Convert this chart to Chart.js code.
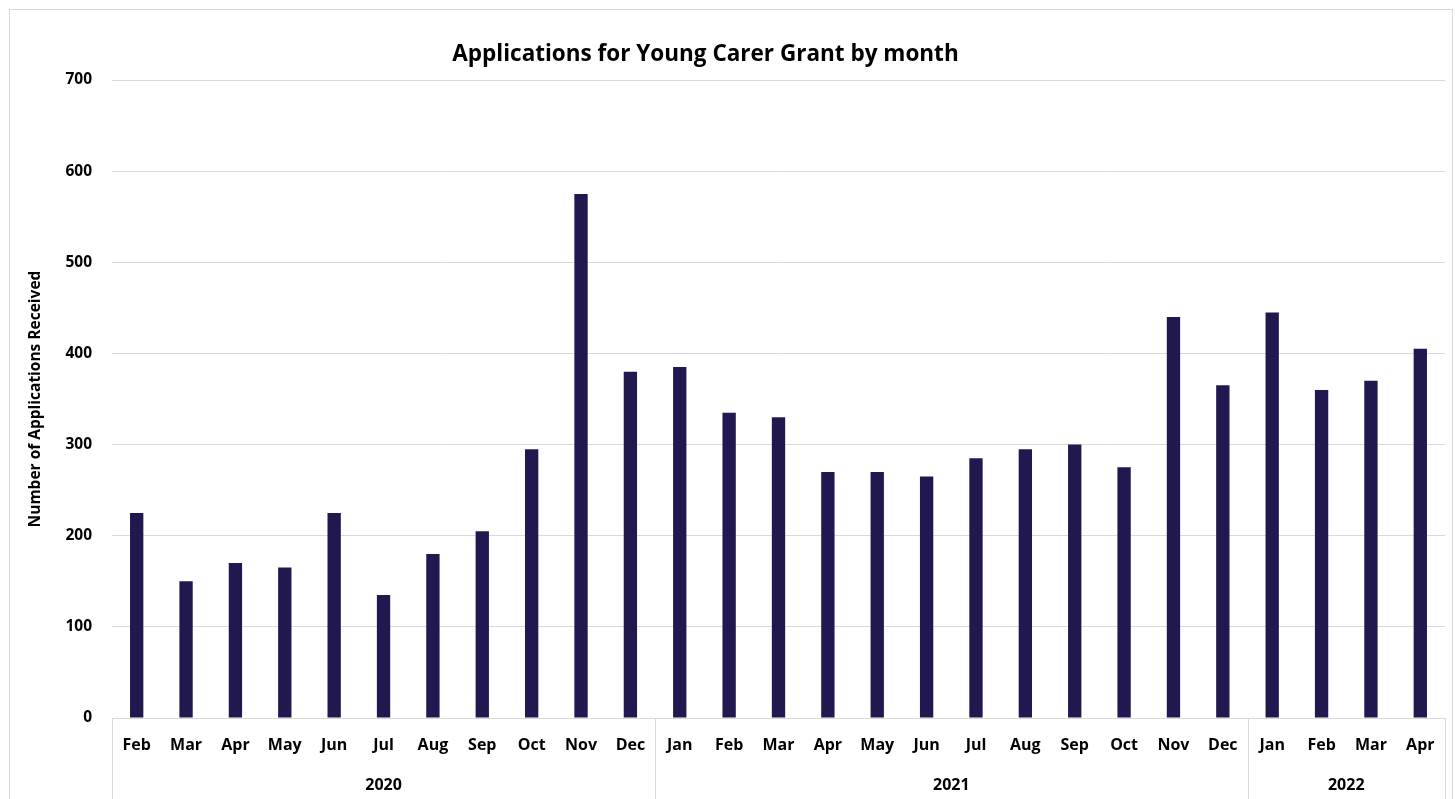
<!DOCTYPE html>
<html>
<head>
<meta charset="utf-8">
<title>Applications for Young Carer Grant by month</title>
<script src="https://cdn.jsdelivr.net/npm/chart.js@4.4.1/dist/chart.umd.min.js"></script>
<style>
  html, body { margin: 0; padding: 0; background: #fff; }
  #wrap { position: absolute; left: 0; top: 0; width: 1455px; height: 799px; }
</style>
</head>
<body>
<div id="wrap"><canvas id="grantChart" width="1455" height="799"></canvas></div>
<script>
// Data
const months = ['Feb', 'Mar', 'Apr', 'May', 'Jun', 'Jul', 'Aug', 'Sep', 'Oct', 'Nov', 'Dec',
                'Jan', 'Feb', 'Mar', 'Apr', 'May', 'Jun', 'Jul', 'Aug', 'Sep', 'Oct', 'Nov', 'Dec',
                'Jan', 'Feb', 'Mar', 'Apr'];
const applications = [225, 150, 170, 165, 225, 135, 180, 205, 295, 575, 380,
                      385, 335, 330, 270, 270, 265, 285, 295, 300, 275, 440, 365,
                      445, 360, 370, 405];
const years = ['2020', '2021', '2022'];
const monthsPerYear = [11, 12, 4];
const yTicks = [0, 100, 200, 300, 400, 500, 600, 700];
const chartTitle = 'Applications for Young Carer Grant by month';

const barColor = '#211850';
const gridColor = '#d9d9d9';
const fontFamily = '"Open Sans", Lato, sans-serif';

// Draws the outer frame, the title, the year labels and the separator lines under the axis
const yearAxisPlugin = {
    id: 'yearAxis',
    beforeDraw(chart) {
        const ctx = chart.ctx;
        ctx.save();
        ctx.strokeStyle = gridColor;
        ctx.lineWidth = 1;
        ctx.strokeRect(9.5, 9.5, chart.width - 12, chart.height + 10);

        // title sits a little left of the canvas centre, as in the original
        ctx.fillStyle = '#000';
        ctx.font = 'bold 22.5px ' + fontFamily;
        ctx.textAlign = 'center';
        ctx.textBaseline = 'middle';
        ctx.fillText(chartTitle, chart.width / 2 - 22, 55);
        ctx.restore();
    },
    afterDraw(chart) {
        const ctx = chart.ctx;
        const x = chart.scales.x;
        const area = chart.chartArea;
        const bottom = chart.height;

        ctx.save();
        ctx.strokeStyle = gridColor;
        ctx.lineWidth = 1;
        ctx.fillStyle = '#000';
        ctx.font = 'bold 16px ' + fontFamily;
        ctx.textAlign = 'center';
        ctx.textBaseline = 'middle';

        let start = 0;
        const edges = [area.left];
        years.forEach((year, i) => {
            const end = start + monthsPerYear[i] - 1;
            const left = start === 0 ? area.left
                : (x.getPixelForValue(start - 1) + x.getPixelForValue(start)) / 2;
            const right = end === months.length - 1 ? area.right
                : (x.getPixelForValue(end) + x.getPixelForValue(end + 1)) / 2;
            edges.push(right);
            ctx.fillText(year, (left + right) / 2, area.bottom + 67);
            start = end + 1;
        });

        edges.forEach(px => {
            const sx = Math.round(px) + 0.5;
            ctx.beginPath();
            ctx.moveTo(sx, area.bottom);
            ctx.lineTo(sx, bottom);
            ctx.stroke();
        });
        ctx.restore();
    }
};

const ctx = document.getElementById('grantChart').getContext('2d');
new Chart(ctx, {
    type: 'bar',
    data: {
        labels: months,
        datasets: [{
            label: 'Applications',
            data: applications,
            backgroundColor: barColor,
            borderWidth: 0,
            barPercentage: 0.27,
            categoryPercentage: 1
        }]
    },
    options: {
        responsive: false,
        animation: false,
        layout: { padding: { left: 10, right: 10, top: 80, bottom: 0 } },
        plugins: {
            legend: { display: false },
            tooltip: { enabled: false },
            title: { display: false }
        },
        scales: {
            x: {
                grid: { display: false, drawTicks: false },
                border: { display: true, color: gridColor },
                ticks: {
                    color: '#000',
                    padding: 18,
                    maxRotation: 0,
                    autoSkip: false,
                    font: { family: fontFamily, size: 16, weight: 'bold' }
                },
                afterFit(scale) { scale.height = 81; }
            },
            y: {
                min: 0,
                max: 700,
                afterBuildTicks(scale) { scale.ticks = yTicks.map(v => ({ value: v })); },
                grid: { color: gridColor, drawTicks: false },
                border: { display: false },
                ticks: {
                    color: '#000',
                    padding: 20,
                    font: { family: fontFamily, size: 15.5, weight: 'bold' }
                },
                title: {
                    display: true,
                    text: 'Number of Applications Received',
                    color: '#000',
                    font: { family: fontFamily, size: 15.5, weight: 'bold' },
                    padding: { top: 16, bottom: 0 }
                },
                afterFit(scale) { scale.width = 102; }
            }
        }
    },
    plugins: [yearAxisPlugin]
});
</script>
</body>
</html>
